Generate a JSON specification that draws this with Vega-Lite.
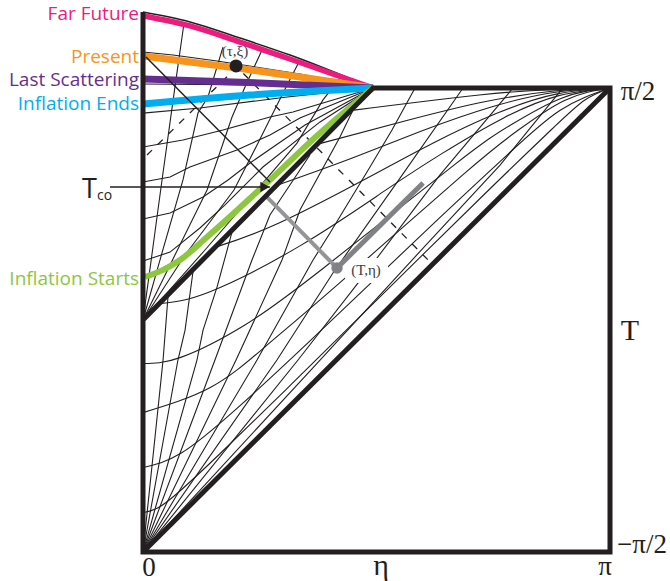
{"$schema":"https://vega.github.io/schema/vega-lite/v6.json","width":670,"height":581,"padding":0,"autosize":{"type":"none"},"background":"white","view":{"stroke":null},
"encoding":{"x":{"field":"eta","type":"quantitative","scale":{"domain":[0,3.1416],"range":[143,610]},"axis":null},"y":{"field":"T","type":"quantitative","scale":{"domain":[-1.5708,1.5708],"range":[552,88]},"axis":null}},
"layer":[
{"data":{"values":[
{"s":"A1","eta":0,"T":-1.571},{"s":"A1","eta":0.135,"T":-0.271},{"s":"A1","eta":0.168,"T":0.156},
{"s":"A2","eta":0,"T":-1.571},{"s":"A2","eta":0.235,"T":-0.271},{"s":"A2","eta":0.283,"T":-0.068},{"s":"A2","eta":0.336,"T":0.325},
{"s":"A3","eta":0,"T":-1.571},{"s":"A3","eta":0.363,"T":-0.271},{"s":"A3","eta":0.404,"T":-0.068},{"s":"A3","eta":0.498,"T":0.223},{"s":"A3","eta":0.599,"T":0.596},
{"s":"A4","eta":0,"T":-1.571},{"s":"A4","eta":0.484,"T":-0.271},{"s":"A4","eta":0.733,"T":0.406},{"s":"A4","eta":0.854,"T":0.711},{"s":"A4","eta":1.123,"T":1.117},
{"s":"A5","eta":0,"T":-1.571},{"s":"A5","eta":0.626,"T":-0.271},{"s":"A5","eta":0.935,"T":0.406},{"s":"A5","eta":1.056,"T":0.745},{"s":"A5","eta":1.325,"T":1.239},{"s":"A5","eta":1.413,"T":1.422},
{"s":"A6","eta":0,"T":-1.571},{"s":"A6","eta":0.767,"T":-0.271},{"s":"A6","eta":1.144,"T":0.406},{"s":"A6","eta":1.258,"T":0.589},{"s":"A6","eta":1.527,"T":1.036},{"s":"A6","eta":1.675,"T":1.286},{"s":"A6","eta":1.83,"T":1.571},
{"s":"A7","eta":0,"T":-1.571},{"s":"A7","eta":0.901,"T":-0.271},{"s":"A7","eta":1.278,"T":0.318},{"s":"A7","eta":1.729,"T":0.961},{"s":"A7","eta":2.153,"T":1.571},
{"s":"A8","eta":0,"T":-1.571},{"s":"A8","eta":1.043,"T":-0.271},{"s":"A8","eta":1.446,"T":0.25},{"s":"A8","eta":1.998,"T":0.982},{"s":"A8","eta":2.489,"T":1.571},
{"s":"A9","eta":0,"T":-1.571},{"s":"A9","eta":1.191,"T":-0.271},{"s":"A9","eta":1.81,"T":0.406},{"s":"A9","eta":2.402,"T":1.049},{"s":"A9","eta":2.825,"T":1.571},
{"s":"U1","eta":0,"T":0},{"s":"U1","eta":0.067,"T":0.494},{"s":"U1","eta":0.128,"T":0.948},{"s":"U1","eta":0.215,"T":1.578},{"s":"U1","eta":0.276,"T":2.011},
{"s":"U2","eta":0,"T":0},{"s":"U2","eta":0.114,"T":0.406},{"s":"U2","eta":0.269,"T":0.948},{"s":"U2","eta":0.37,"T":1.401},{"s":"U2","eta":0.437,"T":1.51},{"s":"U2","eta":0.538,"T":1.848},
{"s":"U3","eta":0,"T":0},{"s":"U3","eta":0.215,"T":0.44},{"s":"U3","eta":0.431,"T":0.88},{"s":"U3","eta":0.599,"T":1.374},{"s":"U3","eta":0.686,"T":1.578},{"s":"U3","eta":0.807,"T":1.842},
{"s":"U4","eta":0,"T":0},{"s":"U4","eta":0.283,"T":0.44},{"s":"U4","eta":0.612,"T":0.88},{"s":"U4","eta":0.774,"T":1.198},{"s":"U4","eta":0.942,"T":1.537},{"s":"U4","eta":1.056,"T":1.76},
{"s":"U5","eta":0,"T":0},{"s":"U5","eta":0.417,"T":0.474},{"s":"U5","eta":0.807,"T":0.928},{"s":"U5","eta":1.036,"T":1.198},{"s":"U5","eta":1.211,"T":1.49},{"s":"U5","eta":1.325,"T":1.638},
{"s":"V1","eta":0,"T":1.815},{"s":"V1","eta":0.202,"T":1.794},{"s":"V1","eta":0.498,"T":1.754},{"s":"V1","eta":1.056,"T":1.666},{"s":"V1","eta":1.547,"T":1.571},
{"s":"V2","eta":0,"T":1.598},{"s":"V2","eta":0.854,"T":1.591},{"s":"V2","eta":1.547,"T":1.571},
{"s":"V3","eta":0,"T":1.401},{"s":"V3","eta":0.383,"T":1.435},{"s":"V3","eta":0.969,"T":1.51},{"s":"V3","eta":1.547,"T":1.571},
{"s":"V4","eta":0,"T":1.171},{"s":"V4","eta":0.269,"T":1.219},{"s":"V4","eta":0.538,"T":1.286},{"s":"V4","eta":0.854,"T":1.374},{"s":"V4","eta":1.009,"T":1.408},{"s":"V4","eta":1.547,"T":1.571},
{"s":"V5","eta":0,"T":0.934},{"s":"V5","eta":0.182,"T":0.968},{"s":"V5","eta":0.316,"T":1.036},{"s":"V5","eta":0.632,"T":1.151},{"s":"V5","eta":0.854,"T":1.253},{"s":"V5","eta":1.056,"T":1.368},{"s":"V5","eta":1.547,"T":1.571},
{"s":"V6","eta":0,"T":0.684},{"s":"V6","eta":0.182,"T":0.724},{"s":"V6","eta":0.404,"T":0.833},{"s":"V6","eta":0.572,"T":0.948},{"s":"V6","eta":0.72,"T":1.063},{"s":"V6","eta":1.09,"T":1.32},{"s":"V6","eta":1.547,"T":1.571},
{"s":"V7","eta":0,"T":0.399},{"s":"V7","eta":0.182,"T":0.46},{"s":"V7","eta":0.383,"T":0.623},{"s":"V7","eta":0.552,"T":0.779},{"s":"V7","eta":0.807,"T":1.036},{"s":"V7","eta":1.191,"T":1.341},{"s":"V7","eta":1.547,"T":1.571}
]},"mark":{"type":"line","stroke":"#231f20","strokeWidth":1.1},"encoding":{"detail":{"field":"s"},"order":{"value":null}}},
{"data":{"values":[
{"s":"B1","eta":0,"T":-1.305},{"s":"B1","eta":0.098,"T":-1.273},{"s":"B1","eta":0.239,"T":-1.166},{"s":"B1","eta":0.514,"T":-0.909},{"s":"B1","eta":0.962,"T":-0.471},{"s":"B1","eta":1.504,"T":0.067},{"s":"B1","eta":2.293,"T":0.848},{"s":"B1","eta":2.764,"T":1.305},{"s":"B1","eta":2.973,"T":1.49},{"s":"B1","eta":3.1416,"T":1.571},
{"s":"B2","eta":0,"T":-0.999},{"s":"B2","eta":0.258,"T":-0.901},{"s":"B2","eta":0.615,"T":-0.614},{"s":"B2","eta":1.127,"T":-0.138},{"s":"B2","eta":1.899,"T":0.6},{"s":"B2","eta":2.434,"T":1.103},{"s":"B2","eta":2.804,"T":1.419},{"s":"B2","eta":3.1416,"T":1.571},
{"s":"B3","eta":0,"T":-0.627},{"s":"B3","eta":0.456,"T":-0.455},{"s":"B3","eta":0.823,"T":-0.18},{"s":"B3","eta":1.321,"T":0.25},{"s":"B3","eta":2.155,"T":0.986},{"s":"B3","eta":2.51,"T":1.275},{"s":"B3","eta":2.832,"T":1.485},{"s":"B3","eta":3.1416,"T":1.571},
{"s":"B4","eta":0,"T":-0.295},{"s":"B4","eta":0.254,"T":-0.253},{"s":"B4","eta":0.68,"T":-0.037},{"s":"B4","eta":1.217,"T":0.354},{"s":"B4","eta":2.092,"T":1.049},{"s":"B4","eta":2.468,"T":1.317},{"s":"B4","eta":2.815,"T":1.502},{"s":"B4","eta":3.1416,"T":1.571},
{"s":"B5","eta":0.11,"T":0.111},{"s":"B5","eta":0.451,"T":0.192},{"s":"B5","eta":1.064,"T":0.507},{"s":"B5","eta":1.625,"T":0.874},{"s":"B5","eta":2.013,"T":1.128},{"s":"B5","eta":2.42,"T":1.365},{"s":"B5","eta":2.798,"T":1.519},{"s":"B5","eta":3.1416,"T":1.571},
{"s":"B6","eta":0.494,"T":0.495},{"s":"B6","eta":0.915,"T":0.656},{"s":"B6","eta":1.528,"T":0.971},{"s":"B6","eta":1.946,"T":1.195},{"s":"B6","eta":2.384,"T":1.401},{"s":"B6","eta":2.786,"T":1.531},{"s":"B6","eta":3.1416,"T":1.571},
{"s":"B7","eta":0.916,"T":0.917},{"s":"B7","eta":1.404,"T":1.095},{"s":"B7","eta":1.865,"T":1.276},{"s":"B7","eta":2.343,"T":1.442},{"s":"B7","eta":2.775,"T":1.542},{"s":"B7","eta":3.1416,"T":1.571},
{"s":"B8","eta":1.195,"T":1.196},{"s":"B8","eta":1.787,"T":1.354},{"s":"B8","eta":2.306,"T":1.479},{"s":"B8","eta":2.766,"T":1.551},{"s":"B8","eta":3.1416,"T":1.571},
{"s":"B9","eta":1.42,"T":1.421},{"s":"B9","eta":2.262,"T":1.523},{"s":"B9","eta":2.756,"T":1.561},{"s":"B9","eta":3.1416,"T":1.571}
]},"mark":{"type":"line","stroke":"#231f20","strokeWidth":1.1,"interpolate":"natural"},"encoding":{"detail":{"field":"s"},"order":{"value":null}}},
{"data":{"values":[{"eta":1.359,"eta2":1.648,"T":0.42,"T2":0.25}]},"mark":{"type":"rect","fill":"white"},"encoding":{"x2":{"field":"eta2"},"y2":{"field":"T2"}}},
{"data":{"values":[{"eta":0.027,"T":1.117},{"eta":0.632,"T":1.713},{"eta":1.931,"T":0.393}]},"mark":{"type":"line","stroke":"#231f20","strokeWidth":1.3,"strokeDash":[7,8]},"encoding":{"order":{"value":null}}},
{"data":{"values":[{"eta":0,"T":2.085},{"eta":0.316,"T":2.018},{"eta":0.653,"T":1.909},{"eta":0.989,"T":1.794},{"eta":1.547,"T":1.571}]},"mark":{"type":"line","stroke":"#231f20","strokeWidth":1.5,"interpolate":"monotone"},"encoding":{"order":{"value":null}}},
{"data":{"values":[{"eta":0,"T":2.06},{"eta":0.316,"T":1.991},{"eta":0.653,"T":1.882},{"eta":0.989,"T":1.767},{"eta":1.547,"T":1.571}]},"mark":{"type":"line","stroke":"#ec1c7e","strokeWidth":5.5,"interpolate":"monotone"},"encoding":{"order":{"value":null}}},
{"data":{"values":[{"eta":0,"T":1.787},{"eta":0.632,"T":1.706},{"eta":1.547,"T":1.571}]},"mark":{"type":"line","stroke":"#f7941d","strokeWidth":7,"interpolate":"monotone"},"encoding":{"order":{"value":null}}},
{"data":{"values":[{"eta":0,"T":1.632},{"eta":0.787,"T":1.605},{"eta":1.547,"T":1.571}]},"mark":{"type":"line","stroke":"#662d91","strokeWidth":7,"interpolate":"monotone"},"encoding":{"order":{"value":null}}},
{"data":{"values":[{"eta":0,"T":1.462},{"eta":0.72,"T":1.523},{"eta":1.547,"T":1.571}]},"mark":{"type":"line","stroke":"#00aeef","strokeWidth":7,"interpolate":"monotone"},"encoding":{"order":{"value":null}}},
{"data":{"values":[{"eta":0.013,"T":0.291},{"eta":0.135,"T":0.339},{"eta":0.249,"T":0.406},{"eta":0.431,"T":0.562},{"eta":0.854,"T":0.948},{"eta":1.191,"T":1.266},{"eta":1.547,"T":1.571}]},"mark":{"type":"line","stroke":"#8dc63f","strokeWidth":6,"interpolate":"monotone"},"encoding":{"order":{"value":null}}},
{"data":{"values":[{"s":"a","eta":0.02,"T":1.781},{"s":"a","eta":0.854,"T":0.934},{"s":"b","eta":-0.222,"T":0.9},{"s":"b","eta":0.854,"T":0.9}]},"mark":{"type":"line","stroke":"#231f20","strokeWidth":1.5},"encoding":{"detail":{"field":"s"},"order":{"value":null}}},
{"data":{"values":[{"eta":0.82,"T":0.9}]},"mark":{"type":"point","shape":"triangle-right","filled":true,"fill":"#231f20","opacity":1,"size":110}},
{"data":{"values":[{"eta":1.305,"T":0.352},{"eta":1.884,"T":0.928}]},"mark":{"type":"line","stroke":"#808285","strokeWidth":5},"encoding":{"order":{"value":null}}},
{"data":{"values":[{"eta":1.305,"T":0.352},{"eta":0.821,"T":0.846}]},"mark":{"type":"line","stroke":"#939598","strokeWidth":4},"encoding":{"order":{"value":null}}},
{"data":{"values":[{"s":"f","eta":0,"T":2.085},{"s":"f","eta":0,"T":-1.571},{"s":"f","eta":3.1416,"T":-1.571},{"s":"f","eta":3.1416,"T":1.571},{"s":"f","eta":1.547,"T":1.571},{"s":"f","eta":0,"T":0},{"s":"h","eta":0,"T":-1.571},{"s":"h","eta":3.1416,"T":1.571}]},"mark":{"type":"line","stroke":"#231f20","strokeWidth":5},"encoding":{"detail":{"field":"s"},"order":{"value":null}}},
{"data":{"values":[{"eta":0.626,"T":1.72}]},"mark":{"type":"point","filled":true,"fill":"#231f20","opacity":1,"size":170}},
{"data":{"values":[{"eta":1.305,"T":0.352}]},"mark":{"type":"point","filled":true,"fill":"#808285","opacity":1,"size":130}},
{"data":{"values":[{"label":"Far Future","eta":-0.027,"T":2.072},{"label":"Present","eta":-0.027,"T":1.781},{"label":"Last Scattering","eta":-0.027,"T":1.625},{"label":"Inflation Ends","eta":-0.027,"T":1.462},{"label":"Inflation Starts","eta":-0.027,"T":0.278}]},"mark":{"type":"text","align":"right","baseline":"middle","font":"Open Sans","fontSize":19},"encoding":{"text":{"field":"label"},"color":{"field":"label","legend":null,"scale":{"domain":["Far Future","Present","Last Scattering","Inflation Ends","Inflation Starts"],"range":["#ec1c7e","#f7941d","#662d91","#00aeef","#8dc63f"]}}}},
{"data":{"values":[{"label":"π/2","eta":3.33,"T":1.544},{"label":"−π/2","eta":3.357,"T":-1.523},{"label":"0","eta":0.04,"T":-1.679},{"label":"π","eta":3.108,"T":-1.672}]},"mark":{"type":"text","align":"center","baseline":"middle","font":"Liberation Serif","fontSize":27,"fill":"#231f20"},"encoding":{"text":{"field":"label"}}},
{"data":{"values":[{"label":"η","eta":1.601,"T":-1.668}]},"mark":{"type":"text","align":"center","baseline":"middle","font":"Liberation Serif","fontSize":30,"fill":"#231f20"},"encoding":{"text":{"field":"label"}}},
{"data":{"values":[{"label":"T","eta":3.276,"T":-0.074}]},"mark":{"type":"text","align":"center","baseline":"middle","font":"Liberation Serif","fontSize":30,"fill":"#231f20"},"encoding":{"text":{"field":"label"}}},
{"data":{"values":[{"label":"T","eta":-0.41,"T":0.88}]},"mark":{"type":"text","align":"left","baseline":"middle","font":"Open Sans","fontSize":27,"fill":"#231f20"},"encoding":{"text":{"field":"label"}}},
{"data":{"values":[{"label":"co","eta":-0.309,"T":0.84}]},"mark":{"type":"text","align":"left","baseline":"middle","font":"Open Sans","fontSize":14,"fill":"#231f20"},"encoding":{"text":{"field":"label"}}},
{"data":{"values":[{"label":"(τ,ξ)","eta":0.619,"T":1.82},{"label":"(T,η)","eta":1.5,"T":0.339}]},"mark":{"type":"text","align":"center","baseline":"middle","font":"Liberation Serif","fontSize":15,"fill":"#414042"},"encoding":{"text":{"field":"label"}}}
]}
